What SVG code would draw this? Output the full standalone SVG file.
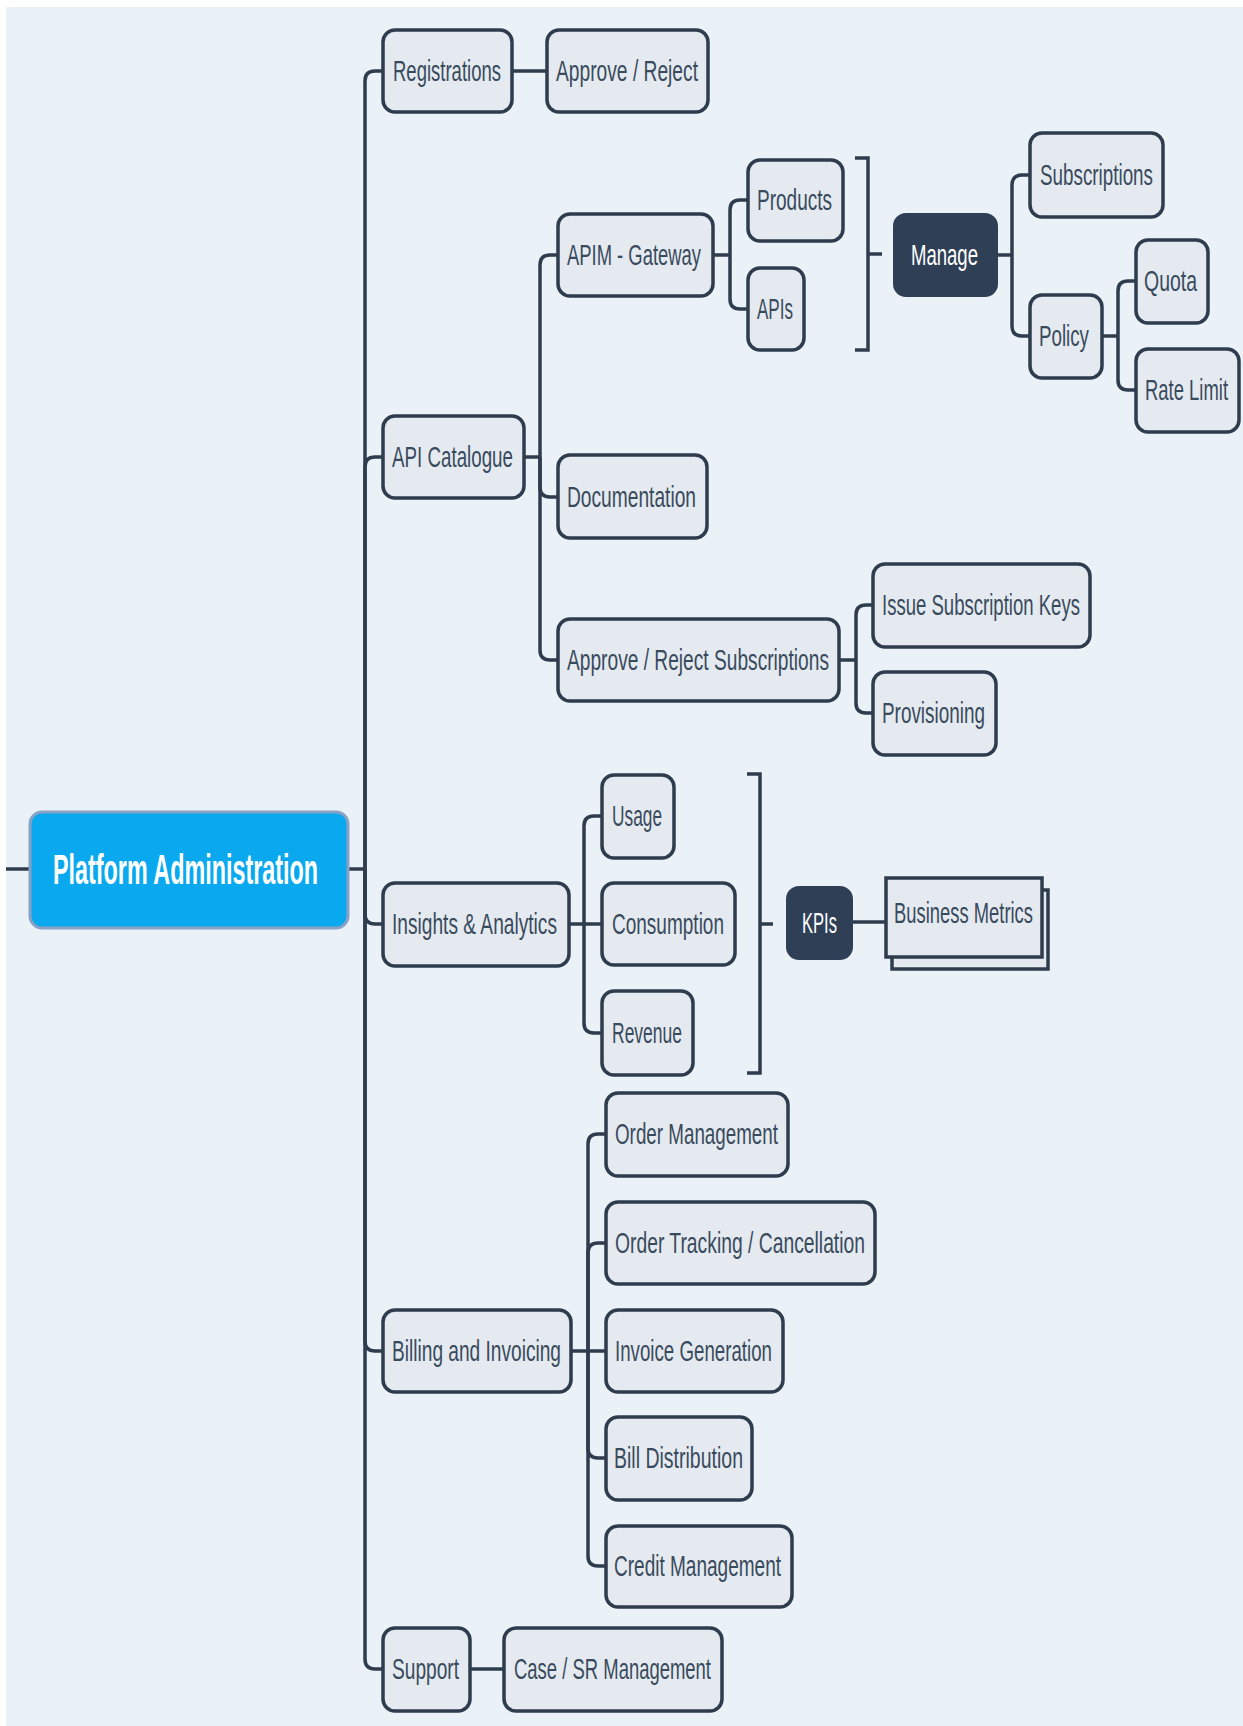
<svg xmlns="http://www.w3.org/2000/svg" width="1243" height="1726" viewBox="0 0 1243 1726">
  <style>
    .conn path { fill: none; stroke: #2E3C4E; stroke-width: 3.5; stroke-linecap: butt; }
    .box { fill: #E4EAF0; stroke: #2E3C4E; stroke-width: 3.5; }
    .dark { fill: #2F4056; stroke: #2F4056; stroke-width: 2; }
    .root { fill: #0AA9EF; stroke: #88A2C6; stroke-width: 3; }
    /* labels use a tall, condensed look: small size stretched vertically */
    .t { font-family: "Liberation Sans", Arial, sans-serif; font-size: 18px; fill: #3A4A5D; }
    .tw { font-family: "Liberation Sans", Arial, sans-serif; font-size: 18px; fill: #FFFFFF; }
    .tr { font-family: "Liberation Sans", Arial, sans-serif; font-size: 23.5px; font-weight: bold; fill: #FFFFFF; }
  </style>

  <!-- canvas -->
  <rect x="0" y="0" width="1243" height="1726" fill="#FFFFFF"/>
  <rect x="6" y="7" width="1237" height="1719" fill="#EAF2F8"/>

  <g class="conn" id="connectors">
    <!-- root stubs -->
    <path d="M6 869 H30"/>
    <path d="M348 869 H365"/>
    <!-- root to first level -->
    <path d="M365 869 V81 Q365 71 375 71 H383"/>
    <path d="M365 869 V467 Q365 457 375 457 H383"/>
    <path d="M365 869 V914 Q365 924 375 924 H383"/>
    <path d="M365 869 V1341 Q365 1351 375 1351 H383"/>
    <path d="M365 869 V1659 Q365 1669 375 1669 H383"/>
    <!-- Registrations -->
    <path d="M512 71 H547"/>
    <!-- API Catalogue -->
    <path d="M524 457 H540"/>
    <path d="M540 457 V265 Q540 255 550 255 H558"/>
    <path d="M540 457 V487 Q540 497 550 497 H558"/>
    <path d="M540 457 V650 Q540 660 550 660 H558"/>
    <!-- APIM - Gateway -->
    <path d="M713 255 H730"/>
    <path d="M730 255 V210 Q730 200 740 200 H748"/>
    <path d="M730 255 V299 Q730 309 740 309 H748"/>
    <!-- summary bracket: Products / APIs -->
    <path d="M855 158 H868 V350 H855"/>
    <path d="M868 254 H882"/>
    <!-- Manage -->
    <path d="M997 255 H1012"/>
    <path d="M1012 255 V185 Q1012 175 1022 175 H1030"/>
    <path d="M1012 255 V326 Q1012 336 1022 336 H1030"/>
    <!-- Policy -->
    <path d="M1102 336 H1118"/>
    <path d="M1118 336 V291 Q1118 281 1128 281 H1136"/>
    <path d="M1118 336 V380 Q1118 390 1128 390 H1136"/>
    <!-- Approve / Reject Subscriptions -->
    <path d="M839 660 H856"/>
    <path d="M856 660 V615 Q856 605 866 605 H873"/>
    <path d="M856 660 V703 Q856 713 866 713 H873"/>
    <!-- Insights & Analytics -->
    <path d="M569 924 H602"/>
    <path d="M584 924 V826 Q584 816 594 816 H602"/>
    <path d="M584 924 V1023 Q584 1033 594 1033 H602"/>
    <!-- summary bracket: Usage / Consumption / Revenue -->
    <path d="M747 774 H760 V1073 H747"/>
    <path d="M760 924 H773"/>
    <path d="M852 922 H887"/>
    <!-- Billing and Invoicing -->
    <path d="M571 1351 H606"/>
    <path d="M588 1351 V1144 Q588 1134 598 1134 H606"/>
    <path d="M588 1351 V1253 Q588 1243 598 1243 H606"/>
    <path d="M588 1351 V1448 Q588 1458 598 1458 H606"/>
    <path d="M588 1351 V1556 Q588 1566 598 1566 H606"/>
    <!-- Support -->
    <path d="M470 1669 H504"/>
  </g>

  <g id="platform-administration">
    <rect class="root" x="30" y="812" width="318" height="116" rx="12"/>
    <text class="tr" transform="translate(53 884) scale(1 1.83)" textLength="265" lengthAdjust="spacingAndGlyphs">Platform Administration</text>
  </g>

  <g id="registrations">
    <rect class="box" x="383" y="30" width="129" height="82" rx="12"/>
    <text class="t" transform="translate(393 81) scale(1 1.667)" textLength="108" lengthAdjust="spacingAndGlyphs">Registrations</text>
  </g>
  <g id="approve-reject">
    <rect class="box" x="547" y="30" width="161" height="82" rx="12"/>
    <text class="t" transform="translate(556 81) scale(1 1.667)" textLength="142" lengthAdjust="spacingAndGlyphs">Approve / Reject</text>
  </g>

  <g id="api-catalogue">
    <rect class="box" x="383" y="416" width="141" height="82" rx="12"/>
    <text class="t" transform="translate(392 467) scale(1 1.667)" textLength="121" lengthAdjust="spacingAndGlyphs">API Catalogue</text>
  </g>
  <g id="apim-gateway">
    <rect class="box" x="558" y="214" width="155" height="82" rx="12"/>
    <text class="t" transform="translate(567 265) scale(1 1.667)" textLength="134" lengthAdjust="spacingAndGlyphs">APIM - Gateway</text>
  </g>
  <g id="products">
    <rect class="box" x="748" y="160" width="95" height="81" rx="12"/>
    <text class="t" transform="translate(757 210) scale(1 1.667)" textLength="75" lengthAdjust="spacingAndGlyphs">Products</text>
  </g>
  <g id="apis">
    <rect class="box" x="748" y="268" width="56" height="82" rx="12"/>
    <text class="t" transform="translate(757 319) scale(1 1.667)" textLength="36" lengthAdjust="spacingAndGlyphs">APIs</text>
  </g>
  <g id="manage">
    <rect class="dark" x="894" y="214" width="103" height="82" rx="12"/>
    <text class="tw" transform="translate(911 265) scale(1 1.667)" textLength="67" lengthAdjust="spacingAndGlyphs">Manage</text>
  </g>
  <g id="subscriptions">
    <rect class="box" x="1030" y="133" width="133" height="84" rx="12"/>
    <text class="t" transform="translate(1040 185) scale(1 1.667)" textLength="113" lengthAdjust="spacingAndGlyphs">Subscriptions</text>
  </g>
  <g id="policy">
    <rect class="box" x="1030" y="295" width="72" height="83" rx="12"/>
    <text class="t" transform="translate(1039 346) scale(1 1.667)" textLength="50" lengthAdjust="spacingAndGlyphs">Policy</text>
  </g>
  <g id="quota">
    <rect class="box" x="1136" y="240" width="72" height="83" rx="12"/>
    <text class="t" transform="translate(1144 291) scale(1 1.667)" textLength="53" lengthAdjust="spacingAndGlyphs">Quota</text>
  </g>
  <g id="rate-limit">
    <rect class="box" x="1136" y="349" width="103" height="83" rx="12"/>
    <text class="t" transform="translate(1145 400) scale(1 1.667)" textLength="83" lengthAdjust="spacingAndGlyphs">Rate Limit</text>
  </g>
  <g id="documentation">
    <rect class="box" x="558" y="455" width="149" height="83" rx="12"/>
    <text class="t" transform="translate(567 507) scale(1 1.667)" textLength="129" lengthAdjust="spacingAndGlyphs">Documentation</text>
  </g>
  <g id="approve-reject-subscriptions">
    <rect class="box" x="558" y="619" width="281" height="82" rx="12"/>
    <text class="t" transform="translate(567 670) scale(1 1.667)" textLength="262" lengthAdjust="spacingAndGlyphs">Approve / Reject Subscriptions</text>
  </g>
  <g id="issue-subscription-keys">
    <rect class="box" x="873" y="564" width="217" height="83" rx="12"/>
    <text class="t" transform="translate(882 615) scale(1 1.667)" textLength="198" lengthAdjust="spacingAndGlyphs">Issue Subscription Keys</text>
  </g>
  <g id="provisioning">
    <rect class="box" x="873" y="672" width="123" height="83" rx="12"/>
    <text class="t" transform="translate(882 723) scale(1 1.667)" textLength="103" lengthAdjust="spacingAndGlyphs">Provisioning</text>
  </g>

  <g id="insights-analytics">
    <rect class="box" x="383" y="883" width="186" height="83" rx="12"/>
    <text class="t" transform="translate(392 934) scale(1 1.667)" textLength="165" lengthAdjust="spacingAndGlyphs">Insights &amp; Analytics</text>
  </g>
  <g id="usage">
    <rect class="box" x="602" y="775" width="72" height="83" rx="12"/>
    <text class="t" transform="translate(612 826) scale(1 1.667)" textLength="50" lengthAdjust="spacingAndGlyphs">Usage</text>
  </g>
  <g id="consumption">
    <rect class="box" x="602" y="883" width="133" height="82" rx="12"/>
    <text class="t" transform="translate(612 934) scale(1 1.667)" textLength="112" lengthAdjust="spacingAndGlyphs">Consumption</text>
  </g>
  <g id="revenue">
    <rect class="box" x="602" y="991" width="91" height="84" rx="12"/>
    <text class="t" transform="translate(612 1043) scale(1 1.667)" textLength="70" lengthAdjust="spacingAndGlyphs">Revenue</text>
  </g>
  <g id="kpis">
    <rect class="dark" x="787" y="887" width="65" height="72" rx="12"/>
    <text class="tw" transform="translate(802 933) scale(1 1.667)" textLength="35" lengthAdjust="spacingAndGlyphs">KPIs</text>
  </g>
  <g id="business-metrics">
    <rect class="box" x="892" y="890" width="156" height="79" stroke-width="3"/>
    <rect class="box" x="886" y="878" width="156" height="79" stroke-width="3"/>
    <text class="t" transform="translate(894 923) scale(1 1.667)" textLength="139" lengthAdjust="spacingAndGlyphs">Business Metrics</text>
  </g>

  <g id="billing-invoicing">
    <rect class="box" x="383" y="1310" width="188" height="82" rx="12"/>
    <text class="t" transform="translate(392 1361) scale(1 1.667)" textLength="169" lengthAdjust="spacingAndGlyphs">Billing and Invoicing</text>
  </g>
  <g id="order-management">
    <rect class="box" x="606" y="1093" width="182" height="83" rx="12"/>
    <text class="t" transform="translate(615 1144) scale(1 1.667)" textLength="163" lengthAdjust="spacingAndGlyphs">Order Management</text>
  </g>
  <g id="order-tracking">
    <rect class="box" x="606" y="1202" width="269" height="82" rx="12"/>
    <text class="t" transform="translate(615 1253) scale(1 1.667)" textLength="250" lengthAdjust="spacingAndGlyphs">Order Tracking / Cancellation</text>
  </g>
  <g id="invoice-generation">
    <rect class="box" x="606" y="1310" width="177" height="82" rx="12"/>
    <text class="t" transform="translate(615 1361) scale(1 1.667)" textLength="157" lengthAdjust="spacingAndGlyphs">Invoice Generation</text>
  </g>
  <g id="bill-distribution">
    <rect class="box" x="606" y="1417" width="146" height="83" rx="12"/>
    <text class="t" transform="translate(614 1468) scale(1 1.667)" textLength="129" lengthAdjust="spacingAndGlyphs">Bill Distribution</text>
  </g>
  <g id="credit-management">
    <rect class="box" x="606" y="1526" width="186" height="81" rx="12"/>
    <text class="t" transform="translate(614 1576) scale(1 1.667)" textLength="167" lengthAdjust="spacingAndGlyphs">Credit Management</text>
  </g>

  <g id="support">
    <rect class="box" x="383" y="1628" width="87" height="83" rx="12"/>
    <text class="t" transform="translate(392 1679) scale(1 1.667)" textLength="67" lengthAdjust="spacingAndGlyphs">Support</text>
  </g>
  <g id="case-sr-management">
    <rect class="box" x="504" y="1628" width="218" height="83" rx="12"/>
    <text class="t" transform="translate(514 1679) scale(1 1.667)" textLength="197" lengthAdjust="spacingAndGlyphs">Case / SR Management</text>
  </g>
</svg>
